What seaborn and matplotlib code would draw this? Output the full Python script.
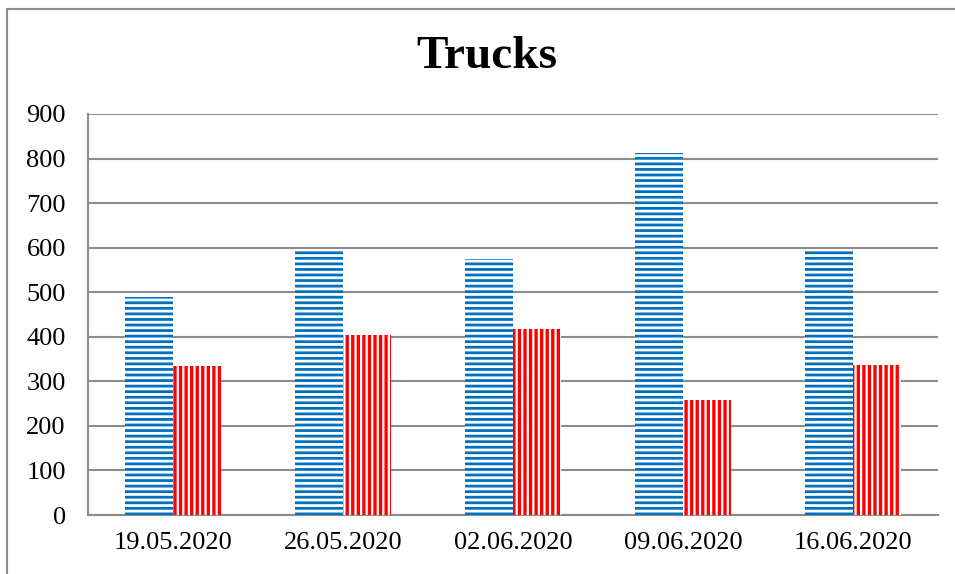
import matplotlib

matplotlib.use("Agg")
import pandas as pd
import seaborn as sns
from matplotlib import pyplot as plt
from matplotlib.lines import Line2D

dates = ["19.05.2020", "26.05.2020", "02.06.2020", "09.06.2020", "16.06.2020"]
series_names = ["A", "B"]
blue_vals = [490, 592, 574, 812, 592]
red_vals = [335, 405, 418, 258, 337]
y_ticks = [0, 100, 200, 300, 400, 500, 600, 700, 800, 900]

df = pd.DataFrame({
    "date": dates * 2,
    "series": [series_names[0]] * len(dates) + [series_names[1]] * len(dates),
    "value": blue_vals + red_vals,
})

sns.set_theme(style="white")
plt.rcParams["font.family"] = ["Liberation Serif", "DejaVu Serif"]
plt.rcParams["text.color"] = "black"
plt.rcParams["hatch.linewidth"] = 2.0

fig = plt.figure(figsize=(9.55, 5.74), dpi=100)
ax = fig.add_axes([88 / 955, 1 - 515 / 574, 850 / 955, 401 / 574])

sns.barplot(data=df, x="date", y="value", hue="series", order=dates,
            palette=["white", "white"], width=0.57, gap=0, ax=ax,
            legend=False, zorder=3)

# blue: horizontal stripes, red: vertical stripes (a bit thicker)
styles = [("#0070c0", "---", 2.0), ("#ff0000", "|||", 2.4)]
for cont, (col, hatch, hlw) in zip(ax.containers, styles):
    for bar in cont:
        bar.set_facecolor("white")
        bar.set_edgecolor(col)
        bar.set_hatch(hatch)
        bar.set_linewidth(0)
        if hasattr(bar, "set_hatch_linewidth"):
            bar.set_hatch_linewidth(hlw)

ax.set_ylim(0, 900)
ax.set_yticks(y_ticks)
ax.set_xlabel("")
ax.set_ylabel("")
ax.yaxis.grid(True, color="#8c8c8c", linewidth=1.5, zorder=0)
ax.set_axisbelow(True)
for side in ["top", "right"]:
    ax.spines[side].set_visible(False)
for side in ["left", "bottom"]:
    ax.spines[side].set_color("#8c8c8c")
    ax.spines[side].set_linewidth(1.5)
ax.tick_params(axis="both", length=0, labelsize=19, colors="black")
ax.tick_params(axis="y", pad=16)
ax.tick_params(axis="x", pad=12)

fig.text(487 / 955, 1 - 57 / 574, "Trucks", ha="center", va="center",
         fontsize=34, fontweight="bold", color="black")

# outer chart frame (left and top edges only show)
fig.add_artist(Line2D([7 / 955, 7 / 955], [0, 1 - 8.5 / 574],
                      transform=fig.transFigure, color="#8c8c8c", linewidth=1.5))
fig.add_artist(Line2D([7 / 955, 1], [1 - 8.5 / 574, 1 - 8.5 / 574],
                      transform=fig.transFigure, color="#8c8c8c", linewidth=1.5))

fig.savefig("out.png", dpi=100)
